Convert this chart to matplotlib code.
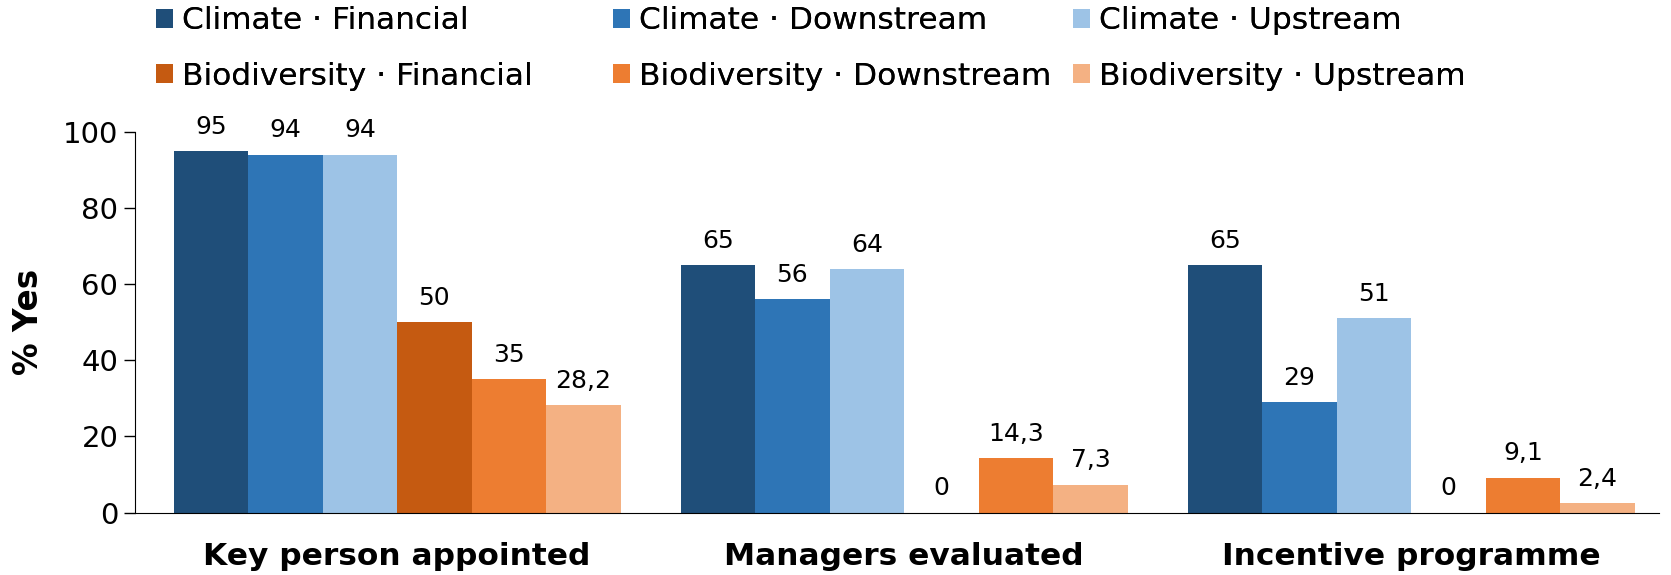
import numpy as np
import matplotlib
matplotlib.use("Agg")
import matplotlib.pyplot as plt
from matplotlib.patches import Patch

categories = ["Key person appointed", "Managers evaluated", "Incentive programme"]
series = ["Climate · Financial", "Climate · Downstream", "Climate · Upstream",
          "Biodiversity · Financial", "Biodiversity · Downstream", "Biodiversity · Upstream"]
climate_financial = [95, 65, 65]
climate_downstream = [94, 56, 29]
climate_upstream = [94, 64, 51]
bio_financial = [50, 0, 0]
bio_downstream = [35, 14.3, 9.1]
bio_upstream = [28.2, 7.3, 2.4]
values = [climate_financial, climate_downstream, climate_upstream,
          bio_financial, bio_downstream, bio_upstream]
colors = ["#1F4E79", "#2E75B6", "#9DC3E6", "#C55A11", "#ED7D31", "#F4B183"]

plt.rcParams['font.family'] = ['DejaVu Sans']


def fmt(v):
    if float(v).is_integer():
        return str(int(v))
    return f"{v:.1f}".replace(".", ",")


fig = plt.figure(figsize=(16.71, 5.75), dpi=100)
ax = fig.add_axes([135 / 1671, 62.4 / 575, 1524 / 1671, 380.6 / 575])

x = np.arange(len(categories))
bw = 0.147
for i, (vals, col) in enumerate(zip(values, colors)):
    pos = x + (i - 2.5) * bw
    ax.bar(pos, vals, width=bw, color=col, edgecolor="none")
    for p, v in zip(pos, vals):
        ax.annotate(fmt(v), (p, v), xytext=(0, 9), textcoords="offset points",
                    ha="center", va="bottom", fontsize=18)

ax.set_xlim(-0.517, 2.489)
ax.set_ylim(0, 100)
ax.set_yticks([0, 20, 40, 60, 80, 100])
ax.tick_params(axis="y", labelsize=21, length=8, width=1, direction="out", pad=4)
ax.set_xticks(x)
ax.set_xticklabels(categories, fontsize=22.5, fontweight="bold")
ax.tick_params(axis="x", length=0, pad=21)
ax.spines["top"].set_visible(False)
ax.spines["right"].set_visible(False)
ax.set_ylabel("% Yes", fontsize=23.5, fontweight="bold", labelpad=13)

# three legend columns at fixed positions, two rows each
col_x = [156 / 1671, 613 / 1671, 1073 / 1671]
for j in range(3):
    idx = [j, j + 3]
    handles = [Patch(facecolor=colors[k], edgecolor="none") for k in idx]
    labels = [series[k] for k in idx]
    leg = fig.legend(handles, labels, loc="upper left", bbox_to_anchor=(col_x[j], 0.989),
                     frameon=False, fontsize=22.5, handlelength=0.55, handleheight=0.55,
                     handletextpad=0.28, labelspacing=0.84, borderpad=0, borderaxespad=0)
    fig.add_artist(leg)

fig.savefig("out.png", dpi=100)
